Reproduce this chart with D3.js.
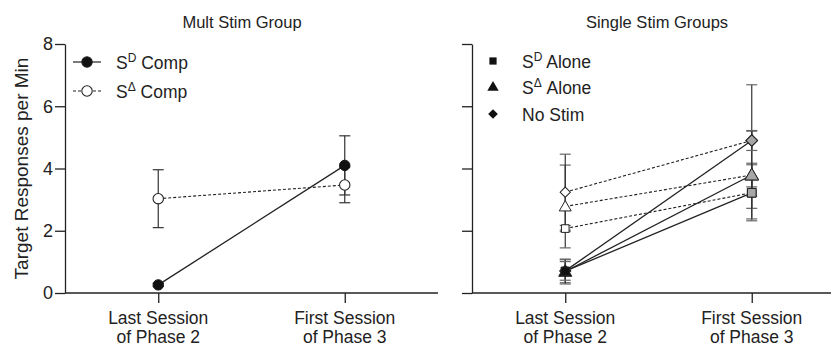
<!DOCTYPE html>
<html><head><meta charset="utf-8">
<script src="https://cdn.jsdelivr.net/npm/d3@7"></script>
<style>body{margin:0;background:#fff}svg{display:block}text{font-family:"Liberation Sans",Arial,sans-serif;fill:#222}</style>
</head><body><svg id="c" width="831" height="347"></svg>
<script>
// ---- data ----
const categories = ["Last Session|of Phase 2", "First Session|of Phase 3"];
const yTicks = [0, 2, 4, 6, 8];
const panelTitles = ["Mult Stim Group", "Single Stim Groups"];
const yLabel = "Target Responses per Min";

// Mult Stim panel
const multSeries = ["SD Comp", "SΔ Comp"];
const sdCompValues = [0.26, 4.10];
const sdCompErr = [0.05, 0.95];
const sDeltaCompValues = [3.03, 3.47];
const sDeltaCompErr = [0.93, 0.57];

// Single Stim panel (groups: SD Alone = square, SΔ Alone = triangle, No Stim = diamond)
const singleGroups = ["SD Alone", "SΔ Alone", "No Stim"];
const solidValues = [[0.70, 3.22], [0.69, 3.79], [0.71, 4.90]];
const solidErr = [[0.37, 0.90], [0.40, 0.38], [0.30, 1.79]];
const dashedValues = [[2.07, 3.22], [2.78, 3.79], [3.24, 4.90]];
const dashedErr = [[0.10, 0.50], [1.33, 1.41], [1.22, 0.32]];

// ---- drawing ----
const svg = d3.select("#c");
const y = d3.scaleLinear().domain([0, 8]).range([293, 44]);
const panels = [{x0: 65, x1: 438}, {x0: 472, x1: 845}];
const xs = panels.map(p => d3.scalePoint().domain(categories).range([p.x0, p.x1]).padding(0.5));

function axes(i, labels) {
  const x = xs[i], p = panels[i];
  const ya = d3.axisLeft(y).tickValues(yTicks).tickSize(10).tickSizeOuter(0).tickPadding(2)
    .tickFormat(labels ? d3.format("d") : () => "");
  const g = svg.append("g").attr("transform", `translate(${p.x0},0)`).call(ya);
  g.selectAll("text").style("font-size", "18px").attr("fill", "#222");
  const xa = d3.axisBottom(x).tickSize(10).tickSizeOuter(0).tickFormat(() => "");
  const gx = svg.append("g").attr("transform", `translate(0,${y(0)})`).call(xa);
  gx.select(".domain").attr("d", `M${p.x0},0H${p.x1}`);
  [g, gx].forEach(s => { s.selectAll("path,line").attr("stroke", "#222").attr("stroke-width", 1.3); });
  categories.forEach(c => {
    const t = svg.append("text").attr("text-anchor", "middle").style("font-size", "17.5px");
    c.split("|").forEach((ln, k) => t.append("tspan").attr("x", x(c)).attr("y", 324 + k * 18.5).text(ln));
  });
}
axes(0, true);
axes(1, false);

svg.append("text").attr("x", 242).attr("y", 28).attr("text-anchor", "middle").style("font-size", "16.5px").text(panelTitles[0]);
svg.append("text").attr("x", 657).attr("y", 28).attr("text-anchor", "middle").style("font-size", "16.5px").text(panelTitles[1]);
svg.append("text").attr("transform", `translate(28,${(y(0) + y(8)) / 2}) rotate(-90)`)
  .attr("text-anchor", "middle").style("font-size", "19px").text(yLabel);

function line(x, vals, dashed) {
  svg.append("path").attr("d", d3.line().x((d, i) => x(categories[i])).y(d => y(d))(vals))
    .attr("fill", "none").attr("stroke", "#222").attr("stroke-width", dashed ? 1.1 : 1.3)
    .attr("stroke-dasharray", dashed ? "3,2" : null);
}
function errBars(x, vals, errs, capColor) {
  vals.forEach((v, i) => {
    const cx = x(categories[i]);
    const g = svg.append("g").attr("stroke", "#333").attr("stroke-width", 1.2);
    g.append("line").attr("x1", cx).attr("x2", cx).attr("y1", y(v - errs[i])).attr("y2", y(v + errs[i]));
    [v - errs[i], v + errs[i]].forEach(e => g.append("line").attr("x1", cx - 5.5).attr("x2", cx + 5.5)
      .attr("y1", y(e)).attr("y2", y(e)).attr("stroke", capColor));
  });
}

// Left panel
const xL = xs[0];
line(xL, sDeltaCompValues, true);
line(xL, sdCompValues, false);
errBars(xL, sdCompValues, sdCompErr, "#333");
errBars(xL, sDeltaCompValues, sDeltaCompErr, "#333");
sDeltaCompValues.forEach((v, i) => svg.append("circle").attr("cx", xL(categories[i])).attr("cy", y(v)).attr("r", 5.2)
  .attr("fill", "#fff").attr("stroke", "#222").attr("stroke-width", 1.1));
sdCompValues.forEach((v, i) => svg.append("circle").attr("cx", xL(categories[i])).attr("cy", y(v)).attr("r", 5.2)
  .attr("fill", "#111").attr("stroke", "#111"));

// Left legend
[{lab: "S", sup: "D", fill: "#111", dash: null}, {lab: "S", sup: "Δ", fill: "#fff", dash: "3,2"}].forEach((d, k) => {
  const yy = 62 + k * 29;
  svg.append("line").attr("x1", 73).attr("x2", 101).attr("y1", yy).attr("y2", yy)
    .attr("stroke", "#222").attr("stroke-width", 1.2).attr("stroke-dasharray", d.dash);
  svg.append("circle").attr("cx", 87).attr("cy", yy).attr("r", 5.2).attr("fill", d.fill).attr("stroke", "#222").attr("stroke-width", 1.1);
  const t = svg.append("text").attr("x", 116).attr("y", yy + 6.5).style("font-size", "17.5px");
  t.append("tspan").text(d.lab);
  t.append("tspan").attr("dy", -7).style("font-size", "12px").text(d.sup);
  t.append("tspan").attr("dy", 7).text(" " + multSeries[k].split(" ")[1]);
});

// Right panel
const xR = xs[1];
const shapes = [d3.symbolSquare, d3.symbolTriangle, d3.symbolSquare];
const sizes = [58, 62, 52];
const rot = [0, 0, 45];
function marker(shapeIdx, cx, cy, fill, scale) {
  svg.append("path").attr("d", d3.symbol().type(shapes[shapeIdx]).size(sizes[shapeIdx] * (scale || 1))())
    .attr("transform", `translate(${cx},${cy + (shapeIdx === 1 ? 1 : 0)}) rotate(${rot[shapeIdx]})`)
    .attr("fill", fill).attr("stroke", "#222").attr("stroke-width", 1);
}
singleGroups.forEach((g, k) => { line(xR, dashedValues[k], true); line(xR, solidValues[k], false); });
singleGroups.forEach((g, k) => {
  errBars(xR, solidValues[k], solidErr[k], "#666");
  errBars(xR, dashedValues[k], dashedErr[k], "#666");
});
singleGroups.forEach((g, k) => {
  marker(k, xR(categories[0]), y(dashedValues[k][0]), "#fff");
  marker(k, xR(categories[1]), y(dashedValues[k][1]), "#a6a6a6", 1.3);
  marker(k, xR(categories[1]), y(solidValues[k][1]), "#a6a6a6", 1.3);
});
[2, 1, 0].forEach(k => marker(k, xR(categories[0]), y(solidValues[k][0]), "#111", 1.2));

// Right legend
singleGroups.forEach((g, k) => {
  const yy = 61 + k * 26.5;
  svg.append("path").attr("d", d3.symbol().type(shapes[k]).size(sizes[k] * 0.9)())
    .attr("transform", `translate(493,${yy}) rotate(${rot[k]})`).attr("fill", "#111");
  const t = svg.append("text").attr("x", 522).attr("y", yy + 6.5).style("font-size", "17.5px");
  const parts = g.split(" ");
  if (parts[0].startsWith("S") && parts[0].length === 2) {
    t.append("tspan").text("S");
    t.append("tspan").attr("dy", -7).style("font-size", "12px").text(parts[0].slice(1));
    t.append("tspan").attr("dy", 7).text(" " + parts[1]);
  } else t.text(g);
});
</script></body></html>
